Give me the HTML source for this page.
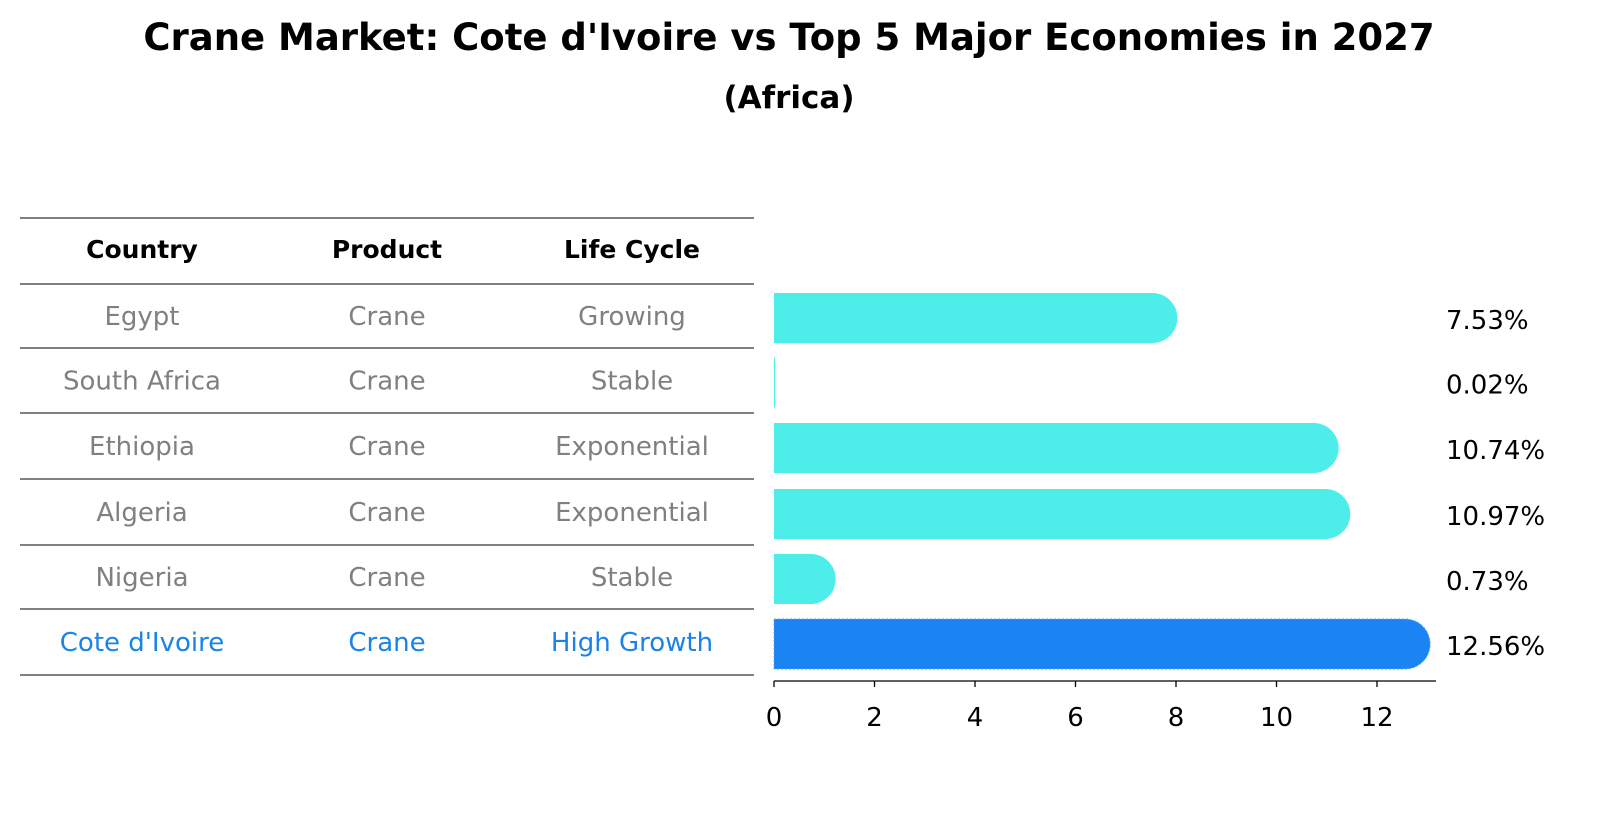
<!DOCTYPE html>
<html><head><meta charset="utf-8"><style>
body{margin:0;background:#fff;font-family:"Liberation Sans","DejaVu Sans",sans-serif}
</style></head><body>
<svg width="1604" height="823" xmlns="http://www.w3.org/2000/svg" font-family="DejaVu Sans, Liberation Sans, sans-serif">
<text x="789" y="50" text-anchor="middle" font-size="37" font-weight="bold">Crane Market: Cote d'Ivoire vs Top 5 Major Economies in 2027</text>
<text x="789" y="108" text-anchor="middle" font-size="31" font-weight="bold">(Africa)</text>
<g id="table"></g>
<g id="bars"></g>
</svg>
<script>
const countries=["Egypt","South Africa","Ethiopia","Algeria","Nigeria","Cote d'Ivoire"];
const products=["Crane","Crane","Crane","Crane","Crane","Crane"];
const lifeCycles=["Growing","Stable","Exponential","Exponential","Stable","High Growth"];
const values=[7.53,0.02,10.74,10.97,0.73,12.56];
const ticks=[0,2,4,6,8,10,12];
const NS="http://www.w3.org/2000/svg";
function mk(t,a,p){const e=document.createElementNS(NS,t);for(const k in a)e.setAttribute(k,a[k]);p.appendChild(e);return e;}
const tbl=document.getElementById('table'),bars=document.getElementById('bars');
const x=v=>774+v*50.25;
const colX=[142,387,632];
const lineYs=[218,284,348,413,479,545,609,675];
lineYs.forEach((y,i)=>{const l=mk('line',{x1:20,x2:754,y1:y,y2:y,stroke:'#000','stroke-width':1},tbl);

});
["Country","Product","Life Cycle"].forEach((h,j)=>{const t=mk('text',{x:colX[j],y:258,'text-anchor':'middle','font-size':25,'font-weight':'bold'},tbl);t.textContent=h;

});
countries.forEach((c,i)=>{const y=(lineYs[i+1]+lineYs[i+2])/2+9;const hl=i===countries.length-1;
[c,products[i],lifeCycles[i]].forEach((v,j)=>{const t=mk('text',{x:colX[j],y:y,'text-anchor':'middle','font-size':26,fill:hl?'#1a84e6':'#808080'},tbl);t.textContent=v;

});});
const h=50,r=25;
values.forEach((v,i)=>{const cy=(lineYs[i+1]+lineYs[i+2])/2+2;const hl=i===values.length-1;const col=hl?'#1a85f2':'#4deeea';
const xe=x(v);let d;
if(v<0.1){d=`M${x(0)},${cy-h/2}h1v${h}h-1z`;}
else d=`M${x(0)},${cy-h/2}H${xe}A${r},${r} 0 0 1 ${xe},${cy+h/2}H${x(0)}Z`;
const p=mk('path',{d:d,fill:col},bars);
if(hl){p.setAttribute('stroke','#5aa8f5');p.setAttribute('stroke-dasharray','2,2');p.setAttribute('stroke-width','1');}


const t=mk('text',{x:1446,y:cy+11,'font-size':26},bars);t.textContent=v.toFixed(2)+'%';

});
const ax=mk('line',{x1:774,x2:1436,y1:681,y2:681,stroke:'#000','stroke-width':1.3},bars);


ticks.forEach(tv=>{const l=mk('line',{x1:x(tv),x2:x(tv),y1:681,y2:687,stroke:'#000','stroke-width':1.3},bars);


const t=mk('text',{x:x(tv),y:726,'text-anchor':'middle','font-size':26},bars);t.textContent=tv;

});
</script>
</body></html>
